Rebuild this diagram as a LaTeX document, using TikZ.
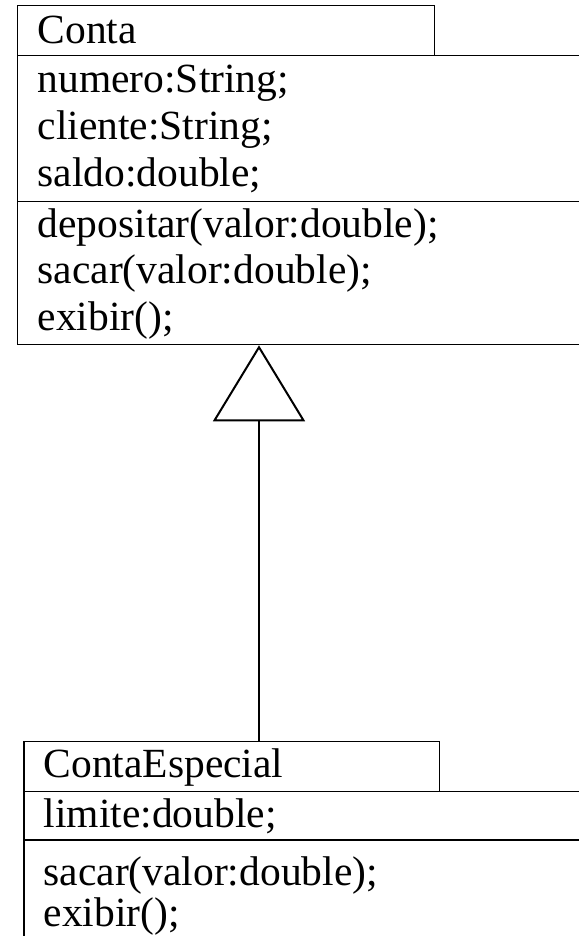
\documentclass[tikz,border=0pt]{standalone}
\usepackage{fontspec}
\setmainfont{Liberation Serif}
\usetikzlibrary{arrows.meta}

\begin{document}
\begin{tikzpicture}[x=1pt,y=-1pt,line width=1.3pt,
  every node/.style={inner sep=0pt,font=\fontsize{41.5}{46.5}\selectfont},
  box/.style={draw,anchor=north west},
  member/.style={anchor=base west},
  >={Triangle[open,width=92pt,length=76pt,line width=2pt]}]
\useasboundingbox(0,0)rectangle(578,936);
% Conta
\node[box,minimum width=417pt,minimum height=49.7pt](contahead)at(17,5){};
\node[box,minimum width=600pt,minimum height=146pt](contaattr)at(17,54.7){};
\node[box,minimum width=600pt,minimum height=143.3pt](contameth)at(17,200.7){};
\node[member](contaname)at(37,44){Conta};
\foreach \txt [count=\i] in {numero:String;,cliente:String;,saldo:double;}
  \node[member](attr\i)at(37,46.5+46.5*\i){\txt};
\foreach \txt [count=\i] in {depositar(valor:double);,sacar(valor:double);,exibir();}
  \node[member](meth\i)at(37,190.5+46.5*\i){\txt};
% ContaEspecial
\node[box,minimum width=415.7pt,minimum height=50pt](esphead)at(23.3,740.7){};
\node[box,minimum width=600pt,minimum height=48.6pt](espattr)at(23.3,790.7){};
\node[box,minimum width=600pt,minimum height=140pt](espmeth)at(23.3,839.3){};
\node[member](espname)at(43,777){ContaEspecial};
\node[member](espattr1)at(43,827){limite:double;};
\node[member](espmeth1)at(43,885){sacar(valor:double);};
\node[member](espmeth2)at(43,926){exibir();};
% heranca
\draw[->](esphead.north-|259,0)--(contameth.south-|259,0);
\end{tikzpicture}
\end{document}
